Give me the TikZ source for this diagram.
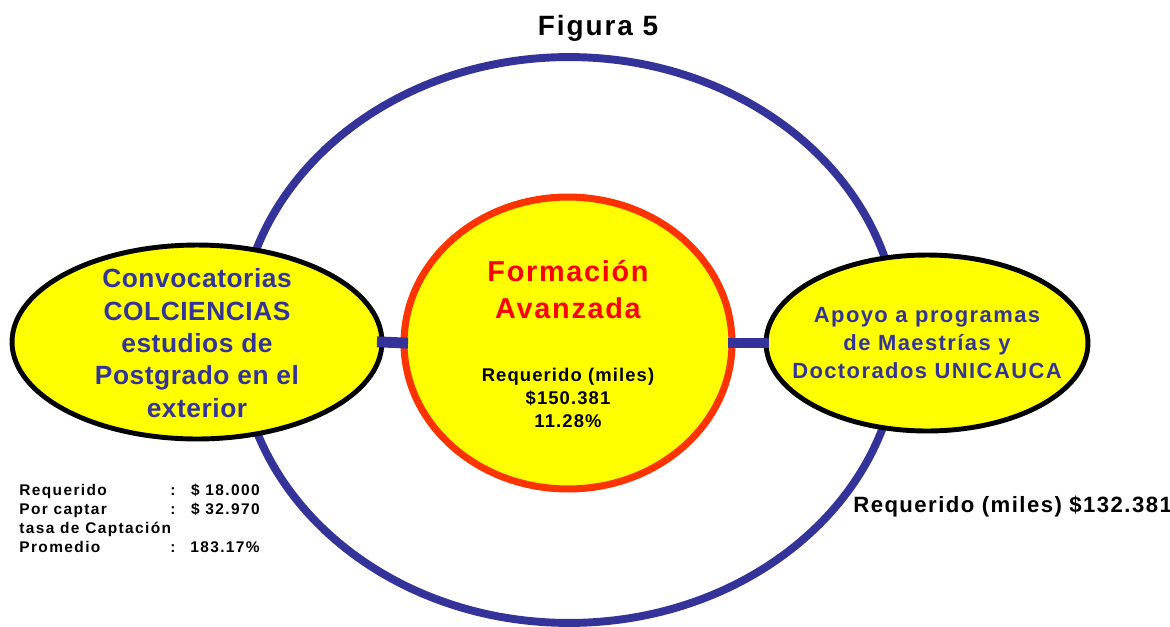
\documentclass[tikz,border=0pt]{standalone}
\usepackage{fontspec}
\setmainfont{Liberation Sans}
\newfontfamily\titlefont[LetterSpace=7]{Liberation Sans}
\newfontfamily\leftfont[LetterSpace=2]{Liberation Sans}
\newfontfamily\rightfont[LetterSpace=6.5]{Liberation Sans}
\newfontfamily\smallfont[LetterSpace=9]{Liberation Sans}
\newfontfamily\figfont[LetterSpace=6]{Liberation Sans}
\usetikzlibrary{shapes.geometric}
\definecolor{ringblue}{HTML}{333399}
\definecolor{hotred}{HTML}{FF3300}
\definecolor{lemon}{HTML}{FFFF00}

\begin{document}
\begin{tikzpicture}[x=0.02cm, y=-0.02cm,
                    every bubble/.style = {ellipse, fill=lemon, inner sep=0pt, outer sep=0pt},
                    bubble/.style = {every bubble, draw=black, line width=2.8pt},
                    core/.style = {every bubble, draw=hotred, line width=4pt},
                    ring/.style = {ellipse, draw=ringblue, line width=4.5pt, inner sep=0pt, outer sep=0pt,
                            minimum width=13.2cm, minimum height=11.32cm},
                    link/.style = {draw=ringblue, line width=6.2pt, line cap=butt},
                    note/.style = {inner sep=0pt, text=black, align=center},
                    bubble text/.style = {note, anchor=base, text=ringblue} ]

                \useasboundingbox (0,0) rectangle (1170,626);
                \node [note, anchor=base, font=\titlefont\bfseries\fontsize{15.9}{19}\selectfont] (title) at (598,35) {Figura 5};

                \node [ring] (ring) at (569,340) {};

                \node [core, minimum width=6.56cm, minimum height=5.84cm] (centre) at (568,343) {};
                \node [note, anchor=base, text=red, font=\figfont\bfseries\fontsize{16.4}{20.5}\selectfont] (centretitle) at (568,318) {Formación\\Avanzada};
                \node [note, anchor=base, font=\figfont\bfseries\fontsize{10.5}{13}\selectfont] (centrefigs) at (568,427) {Requerido (miles)\\\$150.381\\11.28\%};

                % left bubble
                \node [bubble, minimum width=7.4cm, minimum height=3.88cm] (convocatorias) at (197,342) {};
                \node [bubble text, font=\leftfont\bfseries\fontsize{15}{18.4}\selectfont] (convtext) at (197,417) {Convocatorias\\COLCIENCIAS\\estudios de\\Postgrado en el\\exterior};
                % right bubble
                \node [bubble, minimum width=6.44cm, minimum height=3.52cm] (apoyo) at (927,343) {};
                \node [bubble text, font=\rightfont\bfseries\fontsize{12.5}{15.9}\selectfont] (apoyotext) at (927,378) {Apoyo a programas\\de Maestrías y\\Doctorados UNICAUCA};

                \draw [link, shorten <=-0.1cm, shorten >=-0.08cm] (convocatorias.east) -- (centre.west);
                \draw [link, shorten <=-0.08cm, shorten >=-0.06cm] (centre.east) -- (apoyo.west);

                \node [note, anchor=base west, font=\rightfont\bfseries\fontsize{12.6}{15}\selectfont] (apoyofigs) at (853,512) {Requerido (miles) \$132.381};
                \node [note, anchor=base west, font=\smallfont\bfseries\fontsize{8.8}{11}\selectfont] (convfigs) at (19,495)
                      {\begin{tabular}[t]{@{}p{3.02cm}@{}p{0.4cm}@{}r@{}}
                       Requerido & : & \$ 18.000\\
                       Por captar & : & \$ 32.970\\
                       \multicolumn{3}{@{}l@{}}{tasa de Captación}\\
                       Promedio & : & 183.17\%
                       \end{tabular}};
            \end{tikzpicture}
\end{document}
